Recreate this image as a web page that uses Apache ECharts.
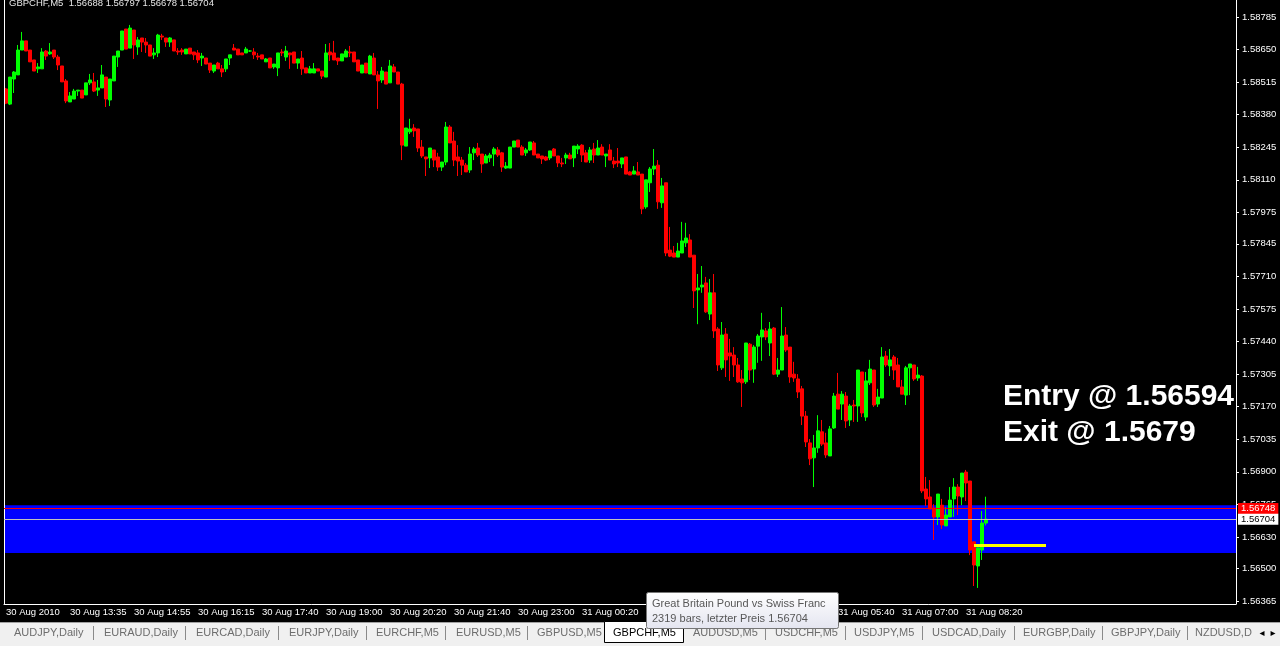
<!DOCTYPE html>
<html><head><meta charset="utf-8">
<script src="https://cdn.jsdelivr.net/npm/echarts@6/dist/echarts.min.js"></script>
<style>html,body{margin:0;padding:0;background:#000;}#c{width:1280px;height:646px;}</style>
</head><body><div id="c"></div>
<script>
const xTickLabels = ["30 Aug 2010","30 Aug 13:35","30 Aug 14:55","30 Aug 16:15","30 Aug 17:40","30 Aug 19:00","30 Aug 20:20","30 Aug 21:40","30 Aug 23:00","31 Aug 00:20","31 Aug 01:40","31 Aug 03:00","31 Aug 04:20","31 Aug 05:40","31 Aug 07:00","31 Aug 08:20"];
const yTickValues = [1.58785,1.58650,1.58515,1.58380,1.58245,1.58110,1.57975,1.57845,1.57710,1.57575,1.57440,1.57305,1.57170,1.57035,1.56900,1.56765,1.56630,1.56500,1.56365];
// [open, close, low, high]
const ohlc = [
[1.58487,1.58428,1.58424,1.58491],[1.58424,1.58536,1.58420,1.58536],[1.58528,1.58557,1.58470,1.58561],[1.58545,1.58648,1.58545,1.58669],[1.58648,1.58686,1.58648,1.58723],
[1.58686,1.58644,1.58644,1.58686],[1.58648,1.58599,1.58599,1.58648],[1.58607,1.58561,1.58561,1.58607],[1.58570,1.58578,1.58553,1.58594],[1.58570,1.58640,1.58570,1.58656],
[1.58644,1.58623,1.58607,1.58648],[1.58632,1.58640,1.58628,1.58677],[1.58648,1.58619,1.58611,1.58648],[1.58619,1.58586,1.58565,1.58628],[1.58582,1.58516,1.58516,1.58582],
[1.58520,1.58437,1.58428,1.58528],[1.58433,1.58458,1.58433,1.58474],[1.58445,1.58478,1.58445,1.58487],[1.58478,1.58482,1.58458,1.58482],[1.58482,1.58449,1.58449,1.58482],
[1.58462,1.58512,1.58462,1.58512],[1.58512,1.58524,1.58503,1.58549],[1.58516,1.58478,1.58474,1.58553],[1.58482,1.58491,1.58458,1.58524],[1.58491,1.58545,1.58491,1.58586],
[1.58536,1.58445,1.58412,1.58536],[1.58441,1.58528,1.58416,1.58528],[1.58520,1.58623,1.58520,1.58623],[1.58619,1.58644,1.58578,1.58644],[1.58648,1.58727,1.58648,1.58727],
[1.58735,1.58652,1.58652,1.58735],[1.58656,1.58739,1.58656,1.58752],[1.58731,1.58669,1.58611,1.58731],[1.58661,1.58690,1.58628,1.58702],[1.58698,1.58681,1.58640,1.58698],
[1.58681,1.58669,1.58636,1.58698],[1.58669,1.58623,1.58623,1.58669],[1.58628,1.58636,1.58611,1.58656],[1.58636,1.58710,1.58619,1.58715],[1.58706,1.58702,1.58690,1.58715],
[1.58698,1.58681,1.58661,1.58698],[1.58681,1.58698,1.58661,1.58702],[1.58690,1.58644,1.58644,1.58690],[1.58644,1.58640,1.58628,1.58656],[1.58648,1.58640,1.58628,1.58656],
[1.58632,1.58652,1.58632,1.58652],[1.58656,1.58632,1.58632,1.58656],[1.58640,1.58628,1.58607,1.58640],[1.58636,1.58607,1.58594,1.58648],[1.58615,1.58623,1.58582,1.58636],
[1.58615,1.58590,1.58590,1.58615],[1.58594,1.58565,1.58553,1.58594],[1.58561,1.58586,1.58553,1.58586],[1.58594,1.58570,1.58570,1.58599],[1.58570,1.58557,1.58536,1.58586],
[1.58570,1.58611,1.58557,1.58611],[1.58615,1.58628,1.58586,1.58628],[1.58656,1.58648,1.58648,1.58673],[1.58652,1.58628,1.58628,1.58652],[1.58636,1.58628,1.58628,1.58636],
[1.58636,1.58652,1.58636,1.58661],[1.58644,1.58644,1.58640,1.58648],[1.58640,1.58628,1.58611,1.58656],[1.58623,1.58619,1.58607,1.58636],[1.58628,1.58611,1.58611,1.58628],
[1.58599,1.58611,1.58599,1.58615],[1.58615,1.58574,1.58574,1.58615],[1.58578,1.58590,1.58570,1.58590],[1.58574,1.58636,1.58540,1.58636],[1.58640,1.58636,1.58623,1.58652],
[1.58619,1.58644,1.58603,1.58665],[1.58636,1.58628,1.58570,1.58636],[1.58640,1.58594,1.58594,1.58640],[1.58594,1.58611,1.58570,1.58611],[1.58615,1.58570,1.58545,1.58644],
[1.58574,1.58553,1.58553,1.58574],[1.58553,1.58570,1.58553,1.58582],[1.58553,1.58570,1.58553,1.58594],[1.58570,1.58561,1.58561,1.58570],[1.58561,1.58540,1.58528,1.58561],
[1.58536,1.58636,1.58536,1.58673],[1.58640,1.58628,1.58603,1.58677],[1.58636,1.58607,1.58607,1.58686],[1.58615,1.58603,1.58586,1.58615],[1.58603,1.58632,1.58603,1.58632],
[1.58619,1.58644,1.58619,1.58652],[1.58640,1.58636,1.58619,1.58665],[1.58640,1.58599,1.58599,1.58640],[1.58607,1.58561,1.58561,1.58607],[1.58553,1.58586,1.58553,1.58586],
[1.58594,1.58553,1.58553,1.58594],[1.58549,1.58623,1.58549,1.58628],[1.58615,1.58545,1.58545,1.58636],[1.58545,1.58520,1.58404,1.58561],[1.58524,1.58561,1.58512,1.58578],
[1.58557,1.58507,1.58507,1.58557],[1.58512,1.58582,1.58512,1.58607],[1.58578,1.58557,1.58557,1.58590],[1.58557,1.58507,1.58507,1.58557],[1.58507,1.58254,1.58192,1.58512],
[1.58250,1.58325,1.58250,1.58325],[1.58309,1.58321,1.58300,1.58363],[1.58325,1.58313,1.58288,1.58341],[1.58321,1.58242,1.58226,1.58321],[1.58246,1.58209,1.58201,1.58275],
[1.58205,1.58197,1.58126,1.58205],[1.58201,1.58242,1.58159,1.58242],[1.58234,1.58192,1.58163,1.58234],[1.58205,1.58163,1.58147,1.58222],[1.58163,1.58184,1.58147,1.58184],
[1.58184,1.58329,1.58171,1.58350],[1.58329,1.58263,1.58263,1.58337],[1.58271,1.58192,1.58167,1.58309],[1.58205,1.58188,1.58126,1.58254],[1.58192,1.58171,1.58130,1.58205],
[1.58171,1.58143,1.58143,1.58180],[1.58151,1.58217,1.58139,1.58246],[1.58222,1.58238,1.58192,1.58246],[1.58242,1.58213,1.58205,1.58263],[1.58217,1.58176,1.58139,1.58217],
[1.58180,1.58209,1.58180,1.58217],[1.58201,1.58213,1.58184,1.58222],[1.58217,1.58238,1.58167,1.58246],[1.58234,1.58213,1.58205,1.58246],[1.58222,1.58163,1.58143,1.58226],
[1.58159,1.58167,1.58155,1.58184],[1.58159,1.58246,1.58159,1.58246],[1.58246,1.58271,1.58246,1.58271],[1.58275,1.58246,1.58246,1.58275],[1.58246,1.58213,1.58213,1.58254],
[1.58222,1.58234,1.58209,1.58242],[1.58234,1.58267,1.58230,1.58267],[1.58263,1.58213,1.58213,1.58271],[1.58217,1.58201,1.58201,1.58217],[1.58209,1.58197,1.58176,1.58209],
[1.58205,1.58192,1.58188,1.58209],[1.58201,1.58230,1.58192,1.58230],[1.58238,1.58209,1.58209,1.58242],[1.58209,1.58180,1.58163,1.58209],[1.58180,1.58176,1.58163,1.58201],
[1.58201,1.58213,1.58176,1.58222],[1.58213,1.58197,1.58197,1.58222],[1.58201,1.58250,1.58163,1.58250],[1.58238,1.58250,1.58217,1.58258],[1.58254,1.58213,1.58184,1.58258],
[1.58222,1.58184,1.58184,1.58234],[1.58192,1.58234,1.58180,1.58246],[1.58238,1.58213,1.58180,1.58263],[1.58213,1.58242,1.58213,1.58275],[1.58246,1.58213,1.58213,1.58258],
[1.58209,1.58217,1.58163,1.58217],[1.58234,1.58192,1.58192,1.58258],[1.58188,1.58176,1.58159,1.58205],[1.58188,1.58180,1.58163,1.58242],[1.58176,1.58201,1.58159,1.58201],
[1.58205,1.58134,1.58134,1.58205],[1.58143,1.58130,1.58130,1.58147],[1.58134,1.58147,1.58134,1.58167],[1.58143,1.58130,1.58130,1.58184],[1.58134,1.57990,1.57968,1.58134],
[1.57998,1.58110,1.57990,1.58110],[1.58098,1.58155,1.58060,1.58163],[1.58155,1.58167,1.58130,1.58238],[1.58171,1.58019,1.57990,1.58192],[1.58015,1.58085,1.57994,1.58118],
[1.58098,1.57807,1.57794,1.58098],[1.57819,1.57794,1.57790,1.57915],[1.57807,1.57790,1.57790,1.57836],[1.57790,1.57815,1.57790,1.57849],[1.57807,1.57857,1.57807,1.57936],
[1.57849,1.57869,1.57832,1.57932],[1.57861,1.57790,1.57790,1.57885],[1.57798,1.57650,1.57579,1.57798],[1.57654,1.57662,1.57512,1.57720],[1.57666,1.57674,1.57642,1.57753],
[1.57683,1.57563,1.57559,1.57708],[1.57554,1.57642,1.57529,1.57699],[1.57642,1.57484,1.57455,1.57720],[1.57492,1.57343,1.57318,1.57500],[1.57331,1.57467,1.57322,1.57521],
[1.57471,1.57364,1.57293,1.57496],[1.57393,1.57380,1.57277,1.57451],[1.57384,1.57343,1.57293,1.57417],[1.57343,1.57273,1.57269,1.57372],[1.57285,1.57269,1.57169,1.57322],
[1.57273,1.57434,1.57264,1.57434],[1.57429,1.57322,1.57281,1.57434],[1.57326,1.57417,1.57269,1.57425],[1.57421,1.57463,1.57352,1.57471],[1.57459,1.57488,1.57360,1.57559],
[1.57484,1.57459,1.57446,1.57496],[1.57434,1.57492,1.57380,1.57521],[1.57496,1.57305,1.57301,1.57500],[1.57305,1.57322,1.57293,1.57372],[1.57322,1.57463,1.57322,1.57583],
[1.57467,1.57405,1.57397,1.57500],[1.57417,1.57293,1.57269,1.57417],[1.57305,1.57289,1.57273,1.57356],[1.57285,1.57231,1.57206,1.57305],[1.57244,1.57131,1.57094,1.57256],
[1.57131,1.57024,1.57003,1.57152],[1.57020,1.56954,1.56928,1.57036],[1.56958,1.56999,1.56837,1.57053],[1.56999,1.57070,1.56979,1.57135],[1.57066,1.57015,1.57007,1.57115],
[1.57020,1.56970,1.56958,1.57062],[1.56966,1.57078,1.56966,1.57090],[1.57082,1.57214,1.57078,1.57227],[1.57222,1.57160,1.57160,1.57310],[1.57181,1.57222,1.57115,1.57235],
[1.57214,1.57111,1.57082,1.57231],[1.57115,1.57173,1.57090,1.57181],[1.57177,1.57173,1.57107,1.57198],[1.57173,1.57322,1.57107,1.57322],[1.57314,1.57144,1.57127,1.57314],
[1.57127,1.57277,1.57111,1.57314],[1.57269,1.57326,1.57260,1.57364],[1.57322,1.57177,1.57169,1.57322],[1.57181,1.57210,1.57169,1.57244],[1.57206,1.57376,1.57206,1.57417],
[1.57380,1.57343,1.57335,1.57401],[1.57339,1.57364,1.57297,1.57409],[1.57376,1.57322,1.57281,1.57384],[1.57343,1.57252,1.57252,1.57372],[1.57252,1.57222,1.57222,1.57281],
[1.57218,1.57331,1.57177,1.57339],[1.57331,1.57347,1.57218,1.57347],[1.57343,1.57285,1.57277,1.57343],[1.57289,1.57301,1.57277,1.57335],[1.57297,1.56821,1.56812,1.57301],
[1.56829,1.56788,1.56759,1.56879],[1.56796,1.56746,1.56746,1.56866],[1.56750,1.56713,1.56618,1.56766],[1.56713,1.56808,1.56680,1.56808],[1.56762,1.56680,1.56663,1.56788],
[1.56676,1.56721,1.56676,1.56754],[1.56713,1.56783,1.56713,1.56837],[1.56788,1.56837,1.56713,1.56874],[1.56837,1.56800,1.56721,1.56849],[1.56796,1.56895,1.56762,1.56895],
[1.56899,1.56854,1.56779,1.56908],[1.56862,1.56576,1.56555,1.56862],[1.56610,1.56514,1.56427,1.56610],[1.56510,1.56585,1.56419,1.56585],[1.56576,1.56688,1.56535,1.56738],
[1.56688,1.56704,1.56678,1.56797]
];
const bidPrice = 1.56704;
const askPrice = 1.56748;
const entryPrice = 1.56594;
const zoneTop = 1.56762;
const zoneBottom = 1.56564;
const tradeFrom = '242', tradeTo = '260';
const headerText = 'GBPCHF,M5  1.56688 1.56797 1.56678 1.56704';
const noteLines = ['Entry @ 1.56594', 'Exit @ 1.5679'];
const tabNames = ['AUDJPY,Daily','EURAUD,Daily','EURCAD,Daily','EURJPY,Daily','EURCHF,M5','EURUSD,M5','GBPUSD,M5','GBPCHF,M5','AUDUSD,M5','USDCHF,M5','USDJPY,M5','USDCAD,Daily','EURGBP,Daily','GBPJPY,Daily','NZDUSD,D'];
const tooltipLines = ['Great Britain Pound vs Swiss Franc', '2319 bars, letzter Preis 1.56704'];

const slotCount = 308;
const categories = Array.from({length: slotCount}, (_, i) => String(i));
const FONT = '"Liberation Sans", Arial, sans-serif';
const showTick = (i) => i % 16 === 0 && i <= 240;

// layout for the tab strip (pixel layout, not data)
const tabX = [14,104,196,289,376,456,537,613,693,775,854,932,1023,1111,1195];
const sepX = [93,185,278,366,445,527,765,845,922,1014,1102,1187];

const graphics = [];
graphics.push({type:'line', shape:{x1:4.5,y1:0,x2:4.5,y2:604}, style:{stroke:'#ffffff', lineWidth:1}, z:5});
graphics.push({type:'text', x:9, y:3, style:{text:headerText, fill:'#e6e6e6', font:'9.5px ' + FONT, align:'left', verticalAlign:'middle'}, z:5});
graphics.push({type:'text', x:1003, y:397, style:{text:noteLines[0], fill:'#ffffff', font:'bold 30px ' + FONT, align:'left', verticalAlign:'middle'}, z:6});
graphics.push({type:'text', x:1003, y:433, style:{text:noteLines[1], fill:'#ffffff', font:'bold 30px ' + FONT, align:'left', verticalAlign:'middle'}, z:6});
// tab strip
graphics.push({type:'rect', shape:{x:0,y:622,width:1280,height:24}, style:{fill:'#f0f0f0'}, z:5});
graphics.push({type:'line', shape:{x1:0,y1:622.5,x2:1280,y2:622.5}, style:{stroke:'#a0a0a0', lineWidth:1}, z:5});
graphics.push({type:'rect', shape:{x:604.5,y:621.5,width:79,height:21}, style:{fill:'#ffffff', stroke:'#000000', lineWidth:1}, z:6});
tabNames.forEach((t, k) => {
  graphics.push({type:'text', x:tabX[k], y:633, style:{text:t, fill: k === 7 ? '#000000' : '#6d6d6d', font:'11px ' + FONT, align:'left', verticalAlign:'middle'}, z:7});
});
sepX.forEach(x => graphics.push({type:'line', shape:{x1:x+0.5,y1:626,x2:x+0.5,y2:640}, style:{stroke:'#8a8a8a', lineWidth:1}, z:6}));
graphics.push({type:'text', x:1262, y:633, style:{text:'◂', fill:'#000', font:'10px "DejaVu Sans"', align:'center', verticalAlign:'middle'}, z:7});
graphics.push({type:'text', x:1273, y:633, style:{text:'▸', fill:'#000', font:'10px "DejaVu Sans"', align:'center', verticalAlign:'middle'}, z:7});
// tooltip
graphics.push({type:'rect', shape:{x:646.5,y:592.5,width:192,height:36,r:2}, style:{fill:new echarts.graphic.LinearGradient(0,0,0,1,[{offset:0,color:'#ffffff'},{offset:1,color:'#e4e5f0'}]), stroke:'#767676', lineWidth:1}, z:20});
graphics.push({type:'text', x:652, y:604, style:{text:tooltipLines[0], fill:'#575757', font:'11px ' + FONT, align:'left', verticalAlign:'middle'}, z:21});
graphics.push({type:'text', x:652, y:619, style:{text:tooltipLines[1], fill:'#575757', font:'11px ' + FONT, align:'left', verticalAlign:'middle'}, z:21});

const priceLabel = (txt, fg, bg) => ({show: true, position: 'end', distance: 2, formatter: () => txt, color: fg, backgroundColor: bg, padding: [1, 3, 0, 3], fontSize: 9.5, fontFamily: FONT});

const chart = echarts.init(document.getElementById('c'), null, {renderer:'canvas'});
chart.setOption({
  backgroundColor: '#000000',
  animation: false,
  grid: {left: 4, top: 0, width: 1232, height: 604, containLabel: false},
  xAxis: {
    type: 'category', data: categories, boundaryGap: true,
    axisLine: {onZero: false, lineStyle: {color: '#ffffff', width: 1}},
    axisTick: {alignWithLabel: true, interval: (i) => showTick(i), length: 3, lineStyle: {color: '#ffffff'}},
    axisLabel: {interval: (i) => showTick(i), formatter: (v) => xTickLabels[Number(v) / 16] || '', color: '#ffffff', fontSize: 9.5, fontFamily: FONT, align: 'left', margin: 3},
    splitLine: {show: false}
  },
  yAxis: {
    type: 'value', position: 'right', min: 1.563524, max: 1.588554,
    axisLine: {show: true, onZero: false, lineStyle: {color: '#ffffff', width: 1}},
    axisTick: {show: true, customValues: yTickValues, length: 3, lineStyle: {color: '#ffffff'}},
    axisLabel: {customValues: yTickValues, formatter: (v) => v.toFixed(5), color: '#ffffff', fontSize: 9.5, fontFamily: FONT, margin: 6},
    splitLine: {show: false}
  },
  series: [{
    type: 'candlestick', data: ohlc, barWidth: 3, silent: true, z: 3,
    itemStyle: {color: '#00ff00', color0: '#ff0000', borderColor: '#00ff00', borderColor0: '#ff0000', borderColorDoji: '#00ff00', borderWidth: 1}
  }, {
    type: 'line', data: [], silent: true, z: 2, symbol: 'none',
    markArea: {silent: true, itemStyle: {color: '#0000ff', opacity: 1}, data: [[{yAxis: zoneTop}, {yAxis: zoneBottom}]]}
  }, {
    type: 'line', data: [], silent: true, z: 4, symbol: 'none',
    markLine: {
      silent: true, symbol: 'none', animation: false, precision: 5,
      data: [
        {yAxis: askPrice, lineStyle: {color: '#ff0000', width: 1, type: 'solid'}, label: priceLabel(askPrice.toFixed(5), '#ffffff', '#ff0000')},
        {yAxis: bidPrice, lineStyle: {color: '#c0c0c0', width: 1, type: 'solid'}, label: priceLabel(bidPrice.toFixed(5), '#000000', '#ffffff')},
        [{coord: [tradeFrom, entryPrice], lineStyle: {color: '#ffff00', width: 3, type: 'solid'}, label: {show: false}}, {coord: [tradeTo, entryPrice]}]
      ]
    }
  }],
  graphic: graphics
});
</script>
</body></html>
